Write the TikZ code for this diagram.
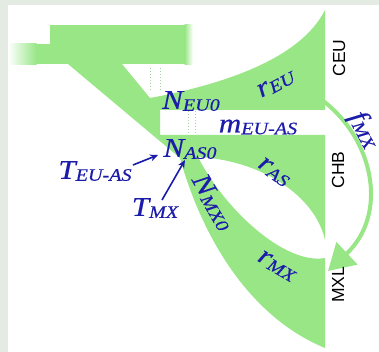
\documentclass[tikz,border=0pt]{standalone}
\usepackage{fontspec}
\setmainfont{Liberation Serif}
\newfontfamily\labfont[FakeStretch=1.15,FakeBold=0.5]{Liberation Serif}
\newfontfamily\popfont{Liberation Sans}
\usetikzlibrary{arrows.meta}
\definecolor{grn}{RGB}{152,230,134}
\definecolor{labc}{RGB}{28,28,170}
\definecolor{framec}{RGB}{227,235,227}
\definecolor{migc}{RGB}{170,205,170}
\newcommand\sbx[1]{\raisebox{-2pt}{\fontsize{17.5}{17.5}\selectfont #1}}
\tikzset{
  lbl/.style={text=labc, font=\labfont\itshape\fontsize{27}{27}\selectfont, inner sep=0pt},
  pop/.style={font=\popfont\fontsize{17.5}{17.5}\selectfont, rotate=90, inner sep=0pt},
  tarr/.style={draw=labc, line width=1.6pt, -{Stealth[length=8pt,width=7pt]}},
  fmxarr/.style={draw=grn, line width=4pt, -{Triangle[length=26pt,width=30pt]}},
  migline/.style={draw=migc, dotted, line width=1pt}
}
\begin{document}
\begin{tikzpicture}[x=1pt,y=-1pt]
\useasboundingbox (0,0) rectangle (379,352);
\fill[framec] (0,0) rectangle (379,352);
\fill[white] (8,5) rectangle (379,352);
% ancestral bar
\fill[grn] (50,25) rectangle (185,64.5);
\shade[left color=grn, right color=white] (184.5,25) rectangle (193,64.5);
\fill[grn] (36,44) rectangle (51,64.5);
\shade[left color=white, right color=grn] (8,44) rectangle (36.5,64.5);
% main body
\fill[grn] (68,64) -- (122,64) -- (150,98)
  .. controls (220,85) and (300,60) .. (325,10)
  -- (325,110) -- (160,110) -- (160,135) -- (325,135) -- (325,240)
  .. controls (315,195) and (260,160) .. (198,157)
  .. controls (225,210) and (285,265) .. (325,258)
  -- (325,348)
  .. controls (245,315) and (200,230) .. (180,158) -- cycle;
% migration
\draw[migline] (150,68) -- (150,92);
\draw[migline] (160,68) -- (160,92);
\draw[migline] (188,111) -- (188,134);
\draw[migline] (195,111) -- (195,134);
% f_MX arrow
\coordinate (fs) at (322,100);
\coordinate (fe) at (328,271);
\draw[fmxarr] (fs) .. controls (375,140) and (388,215) .. (fe);
% labels
\node[lbl] (neu) at (191,101) {N\sbx{EU0}};
\node[lbl] (meuas) at (258,127) {m\sbx{EU-AS}};
\node[lbl] (nas) at (190,149) {N\sbx{AS0}};
\node[lbl, rotate=28] (reu) at (276,84) {r\sbx{EU}};
\node[lbl, rotate=-35] (ras) at (274,172) {r\sbx{AS}};
\node[lbl, rotate=-60] (nmx) at (213,202) {N\sbx{MX0}};
\node[lbl, rotate=-30] (rmx) at (277,266) {r\sbx{MX}};
\node[lbl, rotate=-62] (fmx) at (364,130) {f\sbx{MX}};
\node[lbl] (teuas) at (95,171) {T\sbx{EU-AS}};
\node[lbl] (tmx) at (155,208) {T\sbx{MX}};
\node[pop] (ceu) at (339,58) {CEU};
\node[pop] (chb) at (338,170) {CHB};
\node[pop] (mxl) at (338,285) {MXL};
% T arrows
\coordinate (t1s) at (133,165);
\coordinate (t1e) at (158,155);
\coordinate (t2s) at (162,200);
\coordinate (t2e) at (185,160);
\draw[tarr] (t1s) -- (t1e);
\draw[tarr] (t2s) -- (t2e);
\end{tikzpicture}
\end{document}
